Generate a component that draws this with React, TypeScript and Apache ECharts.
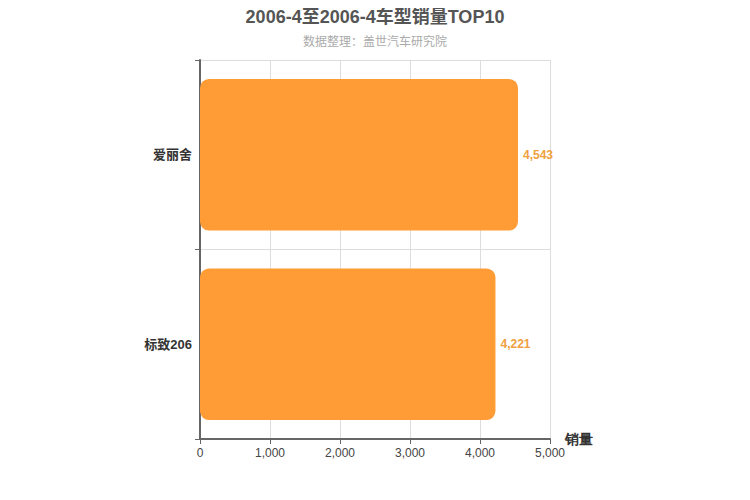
import React, { useEffect, useRef } from 'react'
import * as echarts from 'echarts'

const categories = ['爱丽舍', '标致206']
const sales = [4543, 4221]
const xTicks = { min: 0, max: 5000, interval: 1000 }

const App: React.FC = () => {
    const chartRef = useRef<HTMLDivElement | null>(null)

    useEffect(() => {
        if (!chartRef.current) return
        const chart = echarts.init(chartRef.current, undefined, { renderer: 'svg' })

        const option = {
            animation: false,
            title: {
                text: '2006-4至2006-4车型销量TOP10',
                subtext: '数据整理：盖世汽车研究院',
                left: 'center',
                top: 0,
                padding: [0, 5, 5, 5],
                itemGap: 10,
                textStyle: { fontSize: 18, fontWeight: 'bold', color: '#555', fontFamily: 'Arial, "Noto Sans CJK SC", sans-serif' },
                subtextStyle: { fontSize: 12, color: '#aaa', fontFamily: 'Arial, "Noto Sans CJK SC", sans-serif' },
            },
            grid: { left: 192, right: 192, top: 52, bottom: 53 },
            xAxis: {
                type: 'value',
                min: xTicks.min,
                max: xTicks.max,
                interval: xTicks.interval,
                name: '销量',
                nameGap: 15,
                nameTextStyle: { fontSize: 14, fontWeight: 'bold', color: '#333' },
                axisLine: { show: true, lineStyle: { color: '#666', width: 2 } },
                axisTick: { show: true, lineStyle: { color: '#666' } },
                axisLabel: { color: '#444', fontSize: 12, fontFamily: 'Arial, sans-serif' },
                splitLine: { show: true, lineStyle: { color: '#ddd' } },
            },
            yAxis: {
                type: 'category',
                data: categories,
                inverse: true,
                axisLine: { show: true, lineStyle: { color: '#666', width: 2 } },
                axisTick: { show: true, lineStyle: { color: '#666' } },
                axisLabel: { color: '#333', fontSize: 13, fontWeight: 'bold', fontFamily: 'Arial, "Noto Sans CJK SC", sans-serif' },
                splitLine: { show: true, lineStyle: { color: '#ddd' } },
            },
            series: [
                {
                    type: 'bar',
                    data: sales,
                    barWidth: '80%',
                    itemStyle: { color: '#ff9c35', borderRadius: 9 },
                    label: {
                        show: true,
                        position: 'right',
                        distance: 5,
                        color: '#f0a040',
                        fontSize: 12,
                        fontWeight: 'bold',
                        fontFamily: 'Arial, sans-serif',
                        formatter: (p: any) => p.value.toLocaleString('en-US'),
                    },
                },
            ],
        }

        chart.setOption(option)
        return () => {
            chart.dispose()
        }
    }, [])

    return <div ref={chartRef} style={{ width: 734, height: 484 }} />
}

export default App
